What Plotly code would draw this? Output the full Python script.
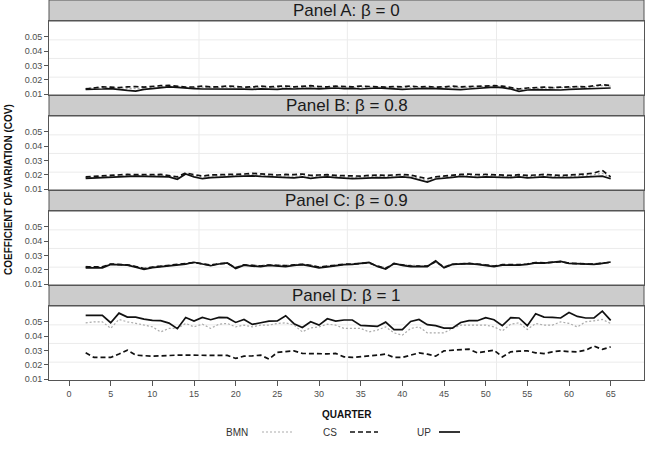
import plotly.graph_objects as go

quarters = list(range(2, 66))
panel_titles = ["Panel A: β = 0", "Panel B: β = 0.8", "Panel C: β = 0.9", "Panel D: β = 1"]
x_ticks = list(range(0, 70, 5))
y_ticks = [0.01, 0.02, 0.03, 0.04, 0.05]
y_tick_text = ["0.01", "0.02", "0.03", "0.04", "0.05"]

# Panel A (beta = 0)
a_up = [.0132, .0132, .0135, .0138, .0130, .0125, .0120, .0132,
        .0138, .0145, .0150, .0146, .0140, .0138, .0135, .0135,
        .0138, .0135, .0136, .0134, .0132, .0136, .0134, .0132,
        .0138, .0135, .0138, .0140, .0136, .0138, .0142, .0138,
        .0140, .0135, .0140, .0142, .0140, .0135, .0133, .0135,
        .0138, .0140, .0138, .0136, .0132, .0130, .0135, .0140,
        .0145, .0148, .0145, .0135, .0118, .0128, .0130, .0128,
        .0125, .0128, .0132, .0135, .0138, .0140, .0140, .0142]
a_cs = [.0135, .0140, .0150, .0148, .0145, .0150, .0152, .0148,
        .0155, .0158, .0160, .0152, .0148, .0150, .0155, .0150,
        .0150, .0156, .0152, .0148, .0150, .0155, .0150, .0152,
        .0156, .0150, .0152, .0158, .0152, .0150, .0155, .0152,
        .0150, .0155, .0152, .0150, .0148, .0152, .0150, .0155,
        .0150, .0152, .0148, .0150, .0155, .0150, .0152, .0158,
        .0160, .0158, .0155, .0145, .0135, .0142, .0145, .0148,
        .0145, .0148, .0150, .0152, .0150, .0155, .0165, .0160]
a_bmn = [.0140, .0142, .0145, .0146, .0142, .0140, .0138, .0142,
         .0148, .0152, .0155, .0150, .0146, .0145, .0146, .0145,
         .0146, .0148, .0146, .0144, .0145, .0148, .0146, .0145,
         .0148, .0146, .0147, .0150, .0146, .0146, .0150, .0147,
         .0147, .0148, .0148, .0147, .0144, .0146, .0145, .0148,
         .0146, .0148, .0145, .0146, .0148, .0145, .0146, .0150,
         .0155, .0156, .0152, .0142, .0130, .0138, .0140, .0142,
         .0140, .0142, .0145, .0148, .0146, .0150, .0158, .0155]

# Panel B (beta = 0.8)
b_up = [.0175, .0178, .0180, .0182, .0185, .0188, .0190, .0188,
        .0188, .0190, .0185, .0168, .0205, .0185, .0172, .0180,
        .0180, .0185, .0188, .0190, .0192, .0188, .0185, .0182,
        .0180, .0178, .0185, .0175, .0182, .0185, .0180, .0176,
        .0172, .0175, .0178, .0180, .0178, .0182, .0185, .0180,
        .0165, .0148, .0170, .0178, .0182, .0188, .0185, .0182,
        .0185, .0182, .0178, .0180, .0185, .0178, .0182, .0185,
        .0180, .0178, .0180, .0182, .0185, .0188, .0190, .0172]
b_cs = [.0185, .0188, .0195, .0198, .0200, .0202, .0200, .0198,
        .0200, .0202, .0195, .0185, .0212, .0200, .0190, .0198,
        .0200, .0202, .0200, .0205, .0210, .0205, .0200, .0198,
        .0202, .0200, .0205, .0195, .0198, .0200, .0195, .0192,
        .0188, .0190, .0195, .0198, .0195, .0200, .0202, .0198,
        .0185, .0172, .0185, .0192, .0200, .0202, .0205, .0200,
        .0202, .0200, .0198, .0195, .0200, .0195, .0198, .0202,
        .0198, .0195, .0198, .0200, .0205, .0212, .0230, .0185]
b_bmn = [.0180, .0183, .0188, .0190, .0192, .0195, .0195, .0193,
         .0194, .0196, .0190, .0176, .0208, .0192, .0181, .0189,
         .0190, .0194, .0194, .0198, .0201, .0197, .0193, .0190,
         .0191, .0189, .0195, .0185, .0190, .0193, .0188, .0184,
         .0180, .0183, .0187, .0189, .0187, .0191, .0194, .0189,
         .0175, .0160, .0178, .0185, .0191, .0195, .0195, .0191,
         .0194, .0191, .0188, .0188, .0193, .0187, .0190, .0194,
         .0189, .0187, .0189, .0191, .0195, .0200, .0210, .0180]

# Panel C (beta = 0.9)
c_up = [.0213, .0213, .0213, .0237, .0235, .0232, .0218, .0202,
        .0215, .0222, .0225, .0232, .0239, .0252, .0240, .0228,
        .0240, .0248, .0208, .0232, .0225, .0222, .0230, .0228,
        .0222, .0230, .0236, .0225, .0213, .0220, .0228, .0235,
        .0237, .0245, .0252, .0222, .0204, .0244, .0230, .0222,
        .0220, .0222, .0262, .0213, .0237, .0240, .0242, .0238,
        .0230, .0222, .0232, .0230, .0232, .0238, .0248, .0246,
        .0252, .0258, .0244, .0240, .0238, .0237, .0245, .0254]
c_cs = [.0220, .0218, .0220, .0240, .0236, .0234, .0222, .0208,
        .0218, .0225, .0228, .0235, .0242, .0250, .0242, .0232,
        .0242, .0245, .0214, .0234, .0230, .0226, .0233, .0232,
        .0228, .0234, .0238, .0230, .0218, .0225, .0232, .0238,
        .0240, .0246, .0248, .0226, .0210, .0242, .0234, .0226,
        .0225, .0226, .0256, .0218, .0238, .0242, .0244, .0240,
        .0234, .0226, .0235, .0233, .0235, .0240, .0250, .0248,
        .0254, .0256, .0246, .0242, .0240, .0240, .0246, .0252]
c_bmn = [.0224, .0220, .0222, .0238, .0234, .0236, .0225, .0212,
         .0220, .0228, .0230, .0236, .0244, .0248, .0240, .0235,
         .0244, .0246, .0218, .0236, .0232, .0228, .0236, .0234,
         .0230, .0236, .0240, .0232, .0220, .0228, .0234, .0240,
         .0242, .0246, .0246, .0228, .0214, .0240, .0236, .0228,
         .0228, .0228, .0252, .0222, .0240, .0244, .0245, .0242,
         .0236, .0228, .0236, .0235, .0236, .0242, .0250, .0248,
         .0252, .0255, .0246, .0244, .0242, .0242, .0248, .0250]

# Panel D (beta = 1)
d_up = [.0545, .0545, .0545, .0494, .0561, .0533, .0533, .0519,
        .0510, .0508, .0491, .0452, .0531, .0505, .0531, .0515,
        .0531, .0529, .0496, .0517, .0482, .0494, .0505, .0506,
        .0543, .0487, .0461, .0501, .0477, .0522, .0505, .0513,
        .0513, .0475, .0473, .0468, .0498, .0445, .0445, .0503,
        .0517, .0480, .0473, .0456, .0456, .0496, .0508, .0508,
        .0529, .0515, .0473, .0529, .0527, .0473, .0557, .0533,
        .0531, .0527, .0566, .0538, .0527, .0527, .0575, .0510]
d_cs = [.0283, .0251, .0251, .0251, .0275, .0302, .0267, .0262,
        .0260, .0262, .0267, .0267, .0267, .0267, .0267, .0262,
        .0267, .0265, .0244, .0260, .0262, .0267, .0239, .0286,
        .0292, .0297, .0279, .0277, .0274, .0276, .0279, .0255,
        .0251, .0255, .0260, .0267, .0274, .0251, .0251, .0265,
        .0283, .0274, .0260, .0297, .0302, .0302, .0309, .0283,
        .0295, .0302, .0255, .0290, .0295, .0297, .0283, .0278,
        .0290, .0297, .0292, .0290, .0302, .0330, .0307, .0325]
d_bmn = [.0493, .0500, .0500, .0455, .0517, .0500, .0490, .0477,
         .0465, .0430, .0454, .0454, .0489, .0465, .0484, .0454,
         .0484, .0489, .0465, .0477, .0465, .0477, .0477, .0489,
         .0493, .0477, .0430, .0458, .0465, .0484, .0477, .0454,
         .0454, .0454, .0430, .0442, .0465, .0423, .0407, .0454,
         .0465, .0423, .0423, .0423, .0454, .0477, .0477, .0477,
         .0477, .0465, .0437, .0484, .0493, .0447, .0489, .0477,
         .0477, .0500, .0489, .0465, .0500, .0507, .0517, .0489]

panels = [(a_bmn, a_cs, a_up), (b_bmn, b_cs, b_up),
          (c_bmn, c_cs, c_up), (d_bmn, d_cs, d_up)]

# geometry (pixels of plot area height)
PH = 380.0
BLOCK = 95.0
STRIP = 21.0
FONT = "Liberation Sans, Arial, sans-serif"
y_range = [0.0093, 0.0611]
x_range = [-2.4, 69.0]
grid_x = [15.6, 33.4, 51.3]
grid_y = [0.0218, 0.0349, 0.0479]

fig = go.Figure()
shapes = []
annotations = []

styles = [
    dict(color="#ABABAB", width=1.2, dash="2px,2px"),
    dict(color="#111111", width=1.7, dash="5px,3px"),
    dict(color="#111111", width=1.7, dash="solid"),
]

for i, series in enumerate(panels):
    n = i + 1
    xa = "x" if n == 1 else f"x{n}"
    ya = "y" if n == 1 else f"y{n}"
    top = i * BLOCK
    dom = [1 - (top + BLOCK) / PH, 1 - (top + STRIP) / PH]
    for s, st in zip(series, styles):
        fig.add_trace(go.Scatter(x=quarters, y=s, mode="lines", line=st,
                                 xaxis=xa, yaxis=ya, showlegend=False,
                                 hoverinfo="skip"))
    last = (n == 4)
    fig.layout[f"xaxis{'' if n == 1 else n}"] = dict(
        range=x_range, anchor=ya, domain=[0, 1], showgrid=False, zeroline=False,
        showline=True, linecolor="#555555", linewidth=1, mirror=True,
        tickmode="array", tickvals=x_ticks if last else [],
        ticks="outside" if last else "", ticklen=5, tickcolor="#555555",
        showticklabels=last,
        tickfont=dict(family=FONT, size=9, color="#4D4D4D"),
    )
    fig.layout[f"yaxis{'' if n == 1 else n}"] = dict(
        range=y_range, anchor=xa, domain=dom, showgrid=False, zeroline=False,
        showline=True, linecolor="#555555", linewidth=1, mirror=True,
        tickmode="array", tickvals=y_ticks, ticktext=y_tick_text,
        ticks="outside", ticklen=4, tickcolor="#555555",
        tickfont=dict(family=FONT, size=9, color="#4D4D4D"),
    )
    # grid
    for gx in grid_x:
        shapes.append(dict(type="line", xref=xa, yref=f"{ya} domain", x0=gx, x1=gx,
                           y0=0, y1=1, line=dict(color="#EBEBEB", width=1), layer="below"))
    for gy in grid_y:
        shapes.append(dict(type="line", xref=f"{xa} domain", yref=ya, x0=0, x1=1,
                           y0=gy, y1=gy, line=dict(color="#EBEBEB", width=1), layer="below"))
    # strip
    s0 = 1 - (top + STRIP) / PH
    s1 = 1 - top / PH
    shapes.append(dict(type="rect", xref="paper", yref="paper", x0=0, x1=1, y0=s0, y1=s1,
                       fillcolor="#CCCCCC", line=dict(color="#555555", width=1), layer="below"))
    annotations.append(dict(text=panel_titles[i], xref="paper", yref="paper", x=0.5,
                            y=(s0 + s1) / 2, showarrow=False, xanchor="center", yanchor="middle",
                            font=dict(family=FONT, size=17, color="#1A1A1A")))

# axis titles
annotations.append(dict(text="<b>QUARTER</b>", xref="paper", yref="paper", x=0.5,
                        y=1 - 414 / PH, showarrow=False, xanchor="center", yanchor="middle",
                        font=dict(family=FONT, size=10, color="#111111")))
annotations.append(dict(text="<b>COEFFICIENT OF VARIATION (COV)</b>", xref="paper", yref="paper",
                        x=(8 - 49) / 595, y=1 - 190 / PH, textangle=-90, showarrow=False,
                        xanchor="center", yanchor="middle",
                        font=dict(family=FONT, size=10, color="#111111")))

# legend (text followed by key, as in the reference)
legend_names = ["BMN", "CS", "UP"]
legend_text_px = [237, 330, 424]
legend_key_px = [(262, 292), (350, 378), (439, 460)]
ly = 1 - 432 / PH
for name, tx, (k0, k1), st in zip(legend_names, legend_text_px, legend_key_px, styles):
    annotations.append(dict(text=name, xref="paper", yref="paper", x=(tx - 49) / 595, y=ly,
                            showarrow=False, xanchor="center", yanchor="middle",
                            font=dict(family=FONT, size=10, color="#333333")))
    shapes.append(dict(type="line", xref="paper", yref="paper", x0=(k0 - 49) / 595,
                       x1=(k1 - 49) / 595, y0=ly, y1=ly, line=st))

fig.update_layout(
    width=646, height=453,
    margin=dict(l=49, r=2, t=0, b=73),
    paper_bgcolor="white", plot_bgcolor="white",
    shapes=shapes, annotations=annotations,
    showlegend=False,
)

fig.write_html("out.html")
